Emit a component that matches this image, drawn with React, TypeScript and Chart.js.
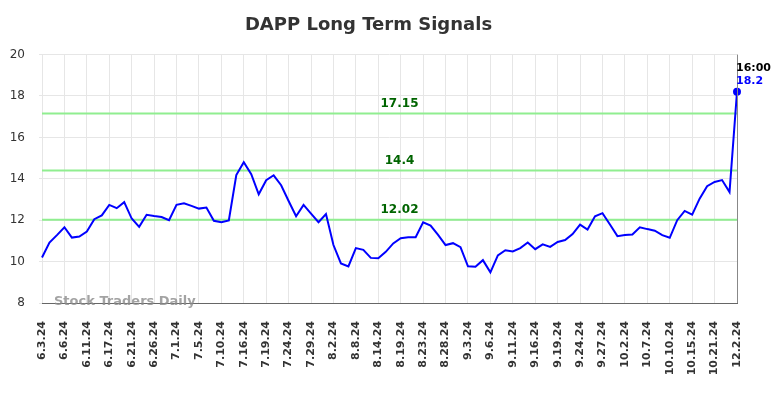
import React, { useEffect, useRef } from "react";
import { Chart, registerables } from "chart.js";

Chart.register(...registerables);

const titleText = "DAPP Long Term Signals";

const dates = [
  "6.3.24", "6.4.24", "6.5.24", "6.6.24", "6.7.24", "6.10.24", "6.11.24", "6.12.24", "6.14.24", "6.17.24",
  "6.18.24", "6.20.24", "6.21.24", "6.24.24", "6.25.24", "6.26.24", "6.27.24", "6.28.24", "7.1.24", "7.2.24",
  "7.3.24", "7.5.24", "7.8.24", "7.9.24", "7.10.24", "7.11.24", "7.15.24", "7.16.24", "7.17.24", "7.18.24",
  "7.19.24", "7.22.24", "7.23.24", "7.24.24", "7.25.24", "7.26.24", "7.29.24", "7.31.24", "8.1.24", "8.2.24",
  "8.5.24", "8.7.24", "8.8.24", "8.9.24", "8.12.24", "8.14.24", "8.15.24", "8.16.24", "8.19.24", "8.21.24",
  "8.22.24", "8.23.24", "8.26.24", "8.27.24", "8.28.24", "8.29.24", "8.30.24", "9.3.24", "9.4.24", "9.5.24",
  "9.6.24", "9.9.24", "9.10.24", "9.11.24", "9.12.24", "9.13.24", "9.16.24", "9.17.24", "9.18.24", "9.19.24",
  "9.20.24", "9.23.24", "9.24.24", "9.25.24", "9.26.24", "9.27.24", "9.30.24", "10.1.24", "10.2.24", "10.3.24",
  "10.4.24", "10.7.24", "10.8.24", "10.9.24", "10.10.24", "10.11.24", "10.14.24", "10.15.24", "10.17.24", "10.18.24",
  "10.21.24", "10.22.24", "10.23.24", "12.2.24",
];

const prices = [
  10.2, 10.92, 11.28, 11.66, 11.16, 11.21, 11.45, 12.05, 12.23, 12.74,
  12.58, 12.87, 12.08, 11.68, 12.26, 12.2, 12.15, 12.0, 12.74, 12.82,
  12.69, 12.56, 12.61, 11.97, 11.9, 11.99, 14.18, 14.8, 14.22, 13.25,
  13.93, 14.17, 13.69, 12.93, 12.19, 12.74, 12.32, 11.9, 12.3, 10.8,
  9.91, 9.77, 10.65, 10.57, 10.18, 10.16, 10.47, 10.88, 11.13, 11.18,
  11.18, 11.9, 11.74, 11.29, 10.8, 10.89, 10.7, 9.77, 9.75, 10.07,
  9.48, 10.3, 10.55, 10.49, 10.65, 10.92, 10.6, 10.83, 10.71, 10.95,
  11.04, 11.33, 11.79, 11.55, 12.19, 12.34, 11.79, 11.23, 11.28, 11.31,
  11.66, 11.57, 11.49, 11.28, 11.15, 12.0, 12.45, 12.27, 13.04, 13.64,
  13.85, 13.94, 13.36, 18.2,
];

const levels = [17.15, 14.4, 12.02];
const levelLabels = ["17.15", "14.4", "12.02"];
const yMin = 8;
const yMax = 20;
const yStep = 2;
const labelEvery = 3;
const lastTimeLabel = "16:00";
const lastValueLabel = "18.2";
const watermark = "Stock Traders Daily";

const FONT = "'DejaVu Sans', sans-serif";

const overlayPlugin = {
  id: "overlay",
  beforeDatasetsDraw(chart: any) {
    const { ctx, chartArea, scales } = chart;
    const y = scales.y;
    ctx.save();
    levels.forEach((lv, i) => {
      const py = y.getPixelForValue(lv);
      ctx.strokeStyle = "#90ee90";
      ctx.lineWidth = 2;
      ctx.beginPath();
      ctx.moveTo(chartArea.left, py);
      ctx.lineTo(chartArea.right, py);
      ctx.stroke();
      ctx.fillStyle = "#006400";
      ctx.font = `bold 12px ${FONT}`;
      ctx.textAlign = "center";
      ctx.textBaseline = "bottom";
      ctx.fillText(levelLabels[i], (chartArea.left + chartArea.right) / 2 + 10, py - 4);
    });
    ctx.restore();
  },
  afterDraw(chart: any) {
    const { ctx, chartArea, scales } = chart;
    const x = scales.x;
    const y = scales.y;
    ctx.save();
    ctx.strokeStyle = "#888888";
    ctx.lineWidth = 1;
    const lx = Math.round(x.getPixelForValue(prices.length - 1)) + 0.5;
    ctx.beginPath();
    ctx.moveTo(lx, chartArea.top);
    ctx.lineTo(lx, chartArea.bottom);
    ctx.stroke();
    ctx.fillStyle = "rgba(140,140,140,0.8)";
    ctx.font = `bold 13px ${FONT}`;
    ctx.textAlign = "left";
    ctx.textBaseline = "alphabetic";
    ctx.fillText(watermark, chartArea.left + 12, chartArea.bottom + 2);
    const px = x.getPixelForValue(prices.length - 1);
    const py = y.getPixelForValue(prices[prices.length - 1]);
    ctx.font = `bold 11px ${FONT}`;
    ctx.textBaseline = "middle";
    ctx.fillStyle = "#000000";
    ctx.fillText(lastTimeLabel, px - 1, py - 24);
    ctx.fillStyle = "#0000ff";
    ctx.fillText(lastValueLabel, px - 1, py - 11);
    ctx.restore();
  },
};

export default function App() {
  const ref = useRef<HTMLCanvasElement | null>(null);
  useEffect(() => {
    if (!ref.current) return;
    const chart = new Chart(ref.current, {
      type: "line",
      data: {
        labels: dates,
        datasets: [
          {
            data: prices,
            borderColor: "#0000ff",
            backgroundColor: "#0000ff",
            borderWidth: 2,
            tension: 0,
            pointRadius: (c: any) => (c.dataIndex === prices.length - 1 ? 4 : 0),
            pointBackgroundColor: "#0000ff",
            pointBorderWidth: 0,
          },
        ],
      },
      options: {
        responsive: false,
        animation: false,
        layout: { padding: { right: 47, left: 0, top: 0, bottom: 0 } },
        plugins: {
          legend: { display: false },
          tooltip: { enabled: false },
          title: {
            display: true,
            text: titleText,
            color: "#333333",
            font: { family: FONT, size: 18, weight: "bold" },
            padding: { top: 15, bottom: 18 },
          },
        },
        scales: {
          x: {
            type: "category",
            grid: { color: "#e6e6e6", lineWidth: 1, drawTicks: false },
            border: { display: true, color: "#666666", width: 1 },
            ticks: {
              autoSkip: false,
              minRotation: 90,
              maxRotation: 90,
              padding: 18,
              color: "#333333",
              font: { family: FONT, size: 11, weight: "bold" },
              callback: (_v: any, i: number) => (i % labelEvery === 0 ? dates[i] : null),
            },
            afterFit: (s: any) => {
              s.height = 95;
            },
          },
          y: {
            min: yMin,
            max: yMax,
            grid: { color: "#e6e6e6", lineWidth: 1, tickLength: 3 },
            border: { display: false },
            ticks: {
              stepSize: yStep,
              padding: 14,
              color: "#333333",
              font: { family: FONT, size: 12 },
            },
            afterFit: (s: any) => {
              s.width = 42;
            },
          },
        },
      },
      plugins: [overlayPlugin],
    } as any);
    return () => chart.destroy();
  }, []);
  return (
    <div style={{ position: "absolute", left: 0, top: 0, width: 784, height: 398, background: "#ffffff" }}>
      <canvas ref={ref} width={784} height={398} style={{ display: "block" }} />
    </div>
  );
}
